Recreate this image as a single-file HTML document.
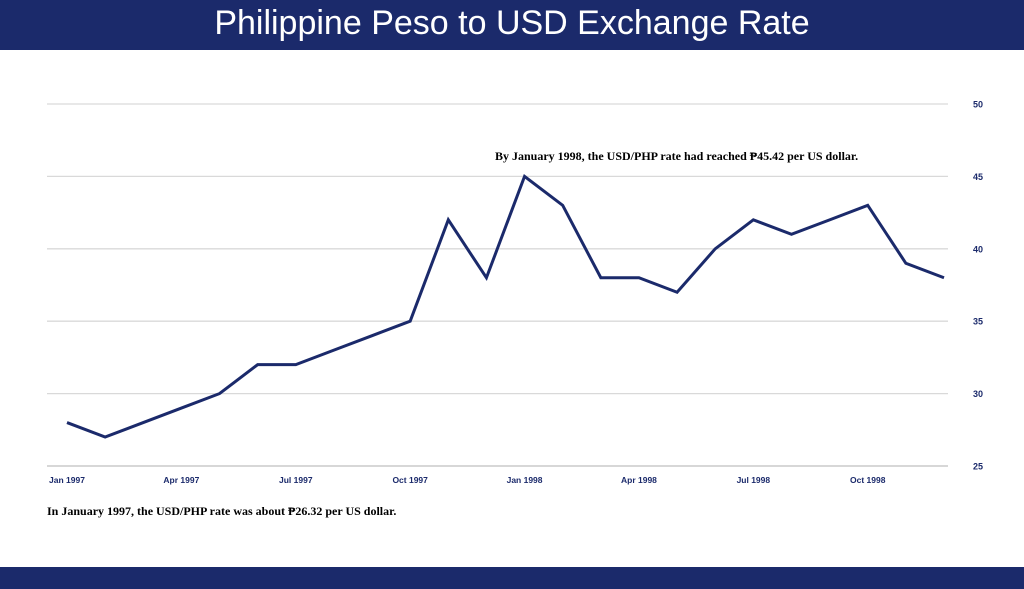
<!DOCTYPE html>
<html><head><meta charset="utf-8"><style>
body{margin:0;width:1024px;height:589px;background:#fff;overflow:hidden;font-family:"Liberation Sans",sans-serif;position:relative}
#hdr{position:absolute;left:0;top:0;width:1024px;height:50px;background:#1b2a6b;color:#fff;font-size:34px;text-align:center;line-height:46px}
#ftr{position:absolute;left:0;top:567px;width:1024px;height:22px;background:#1b2a6b}
svg{position:absolute;left:0;top:0}
</style></head><body>
<div id="hdr">Philippine Peso to USD Exchange Rate</div>
<div id="ftr"></div>
<svg id="chart" width="1024" height="589"></svg>
<script>
const categories=["Jan 1997","Feb 1997","Mar 1997","Apr 1997","May 1997","Jun 1997","Jul 1997","Aug 1997","Sep 1997","Oct 1997","Nov 1997","Dec 1997","Jan 1998","Feb 1998","Mar 1998","Apr 1998","May 1998","Jun 1998","Jul 1998","Aug 1998","Sep 1998","Oct 1998","Nov 1998","Dec 1998"];
const rates=[28,27,28,29,30,32,32,33,34,35,42,38,45,43,38,38,37,40,42,41,42,43,39,38];
const yTicks=[25,30,35,40,45,50];
const xTickIdx=[0,3,6,9,12,15,18,21];
const NS="http://www.w3.org/2000/svg";
const svg=document.getElementById('chart');
const x0=67,x1=944,yMin=25,yMax=50,py0=466,py1=104;
function xs(i){return x0+(x1-x0)*i/(categories.length-1);}
function ys(v){return py0-(v-yMin)/(yMax-yMin)*(py0-py1);}
function mk(t,a){const e=document.createElementNS(NS,t);for(const k in a)e.setAttribute(k,a[k]);svg.appendChild(e);return e;}
yTicks.forEach(v=>{
 const l=mk('line',{x1:47,x2:948,y1:ys(v),y2:ys(v),stroke:v===25?'#bfbfbf':'#d9d9d9','stroke-width':1.3});
 
 
 const t=mk('text',{x:973,y:ys(v)+3.5,'font-size':9,'font-weight':'bold',fill:'#1b2a6b','font-family':'Liberation Sans, sans-serif'});
 t.textContent=v;
 
 
});
xTickIdx.forEach(i=>{
 const t=mk('text',{x:xs(i),y:483,'font-size':8.5,'font-weight':'bold',fill:'#1b2a6b','text-anchor':'middle','font-family':'Liberation Sans, sans-serif'});
 t.textContent=categories[i];
 
 
});
const p=mk('polyline',{points:rates.map((v,i)=>xs(i)+','+ys(v)).join(' '),fill:'none',stroke:'#1b2a6b','stroke-width':3,'stroke-linejoin':'miter'});


const a1=mk('text',{x:495,y:160,'font-size':12,'font-weight':'bold',fill:'#000','font-family':'Liberation Serif, serif'});
a1.textContent='By January 1998, the USD/PHP rate had reached ₱45.42 per US dollar.';


const a2=mk('text',{x:47,y:515,'font-size':12,'font-weight':'bold',fill:'#000','font-family':'Liberation Serif, serif'});
a2.textContent='In January 1997, the USD/PHP rate was about ₱26.32 per US dollar.';


</script>
</body></html>
